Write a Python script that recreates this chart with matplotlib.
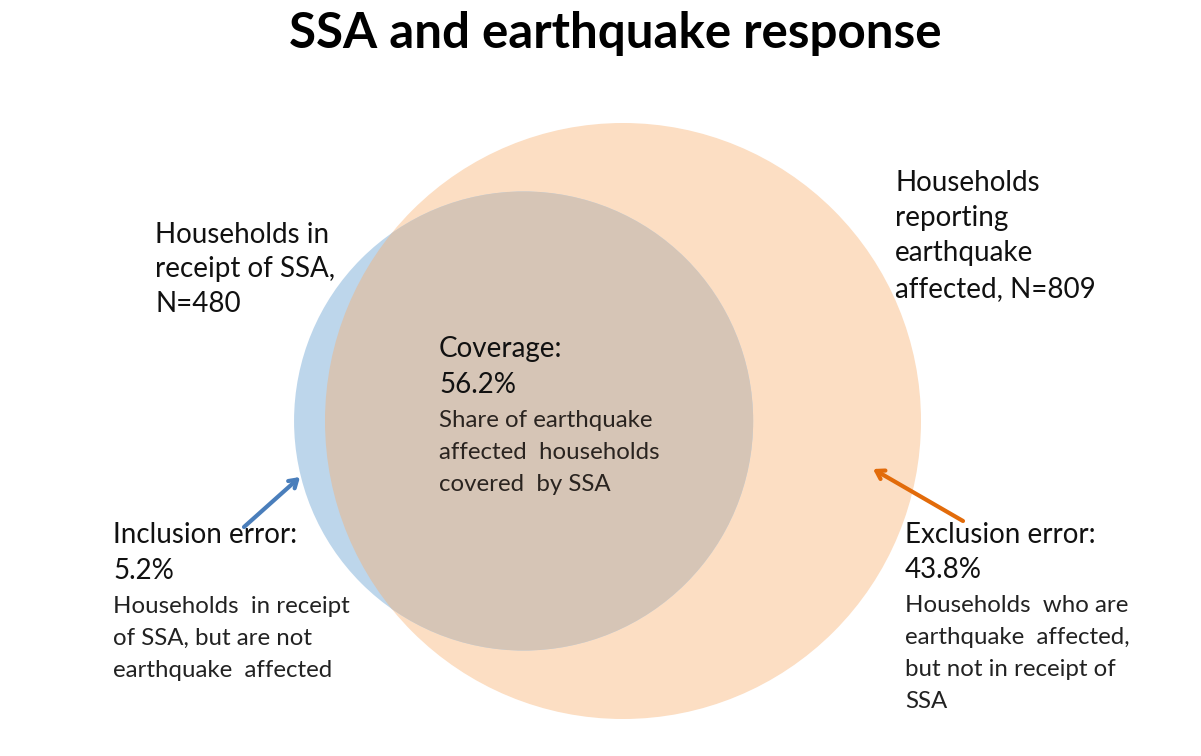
import numpy as np
import matplotlib
matplotlib.use("Agg")
import matplotlib.pyplot as plt
from matplotlib.patches import Circle

plt.rcParams['font.family'] = ['Lato', 'DejaVu Sans']

# household counts and shares
n_ssa = 480          # households in receipt of SSA
n_quake = 809        # households reporting earthquake affected
coverage = 56.2      # % of affected households covered by SSA
inclusion = 5.2      # % of SSA households not affected
exclusion = 43.8     # % of affected households without SSA

n_both = n_ssa * (1 - inclusion / 100)


def lens_area(r1, r2, d):
    # area shared by two circles whose centres are d apart
    a1 = np.arccos((d**2 + r1**2 - r2**2) / (2 * d * r1))
    a2 = np.arccos((d**2 + r2**2 - r1**2) / (2 * d * r2))
    k = np.sqrt((-d + r1 + r2) * (d + r1 - r2) * (d - r1 + r2) * (d + r1 + r2))
    return r1**2 * a1 + r2**2 * a2 - 0.5 * k


# circle areas proportional to counts
scale = 298 / np.sqrt(n_quake)
r_quake = scale * np.sqrt(n_quake)
r_ssa = scale * np.sqrt(n_ssa)
target = np.pi * scale**2 * n_both

# find centre distance giving the right overlap (bisection)
lo, hi = abs(r_quake - r_ssa) + 1e-6, r_quake + r_ssa - 1e-6
for _ in range(100):
    mid = (lo + hi) / 2
    if lens_area(r_quake, r_ssa, mid) > target:
        lo = mid
    else:
        hi = mid
dist = (lo + hi) / 2

cx_quake, cy = 623, 421
cx_ssa = cx_quake - dist

fig = plt.figure(figsize=(12.01, 7.56), dpi=100)
ax = fig.add_axes([0, 0, 1, 1])
ax.set_xlim(0, 1201)
ax.set_ylim(756, 0)
ax.axis('off')

quake = Circle((cx_quake, cy), r_quake, color='#fcdec3', lw=0)
ax.add_patch(quake)
ax.add_patch(Circle((cx_ssa, cy), r_ssa, color='#bdd6eb', lw=0))
both = Circle((cx_ssa, cy), r_ssa, color='#d6c5b6', lw=0)
ax.add_patch(both)
both.set_clip_path(quake)

ax.text(615, 48, 'SSA and earthquake response', ha='center', va='baseline',
        fontsize=35.5, fontweight='bold', color='black')


def block(x, y, lines, size, step, color='#111111'):
    for i, s in enumerate(lines):
        ax.text(x, y + i * step, s, ha='left', va='baseline',
                fontsize=size, color=color)


big = 20
small = 17.3

block(155, 243, ['Households in', 'receipt of SSA,', 'N=%d' % n_ssa], big, 34.5)
block(895, 191, ['Households', 'reporting', 'earthquake',
                 'affected, N=%d' % n_quake], big, 35.2)

block(439, 357, ['Coverage:', '%.1f%%' % coverage], big, 36)
block(439, 427, ['Share of earthquake', 'affected  households',
                 'covered  by SSA'], small, 32, '#2a2420')

block(113, 543, ['Inclusion error:', '%.1f%%' % inclusion], big, 36)
block(113, 613, ['Households  in receipt', 'of SSA, but are not',
                 'earthquake  affected'], small, 32, '#222222')

block(905, 543, ['Exclusion error:', '%.1f%%' % exclusion], big, 35)
block(905, 612, ['Households  who are', 'earthquake  affected,',
                 'but not in receipt of', 'SSA'], small, 32, '#222222')

ax.annotate('', xy=(300, 477), xytext=(244, 527),
            arrowprops=dict(arrowstyle='->,head_length=0.55,head_width=0.35',
                            color='#4a7ebb', lw=3, shrinkA=0, shrinkB=0))
ax.annotate('', xy=(873, 469), xytext=(963, 521),
            arrowprops=dict(arrowstyle='->,head_length=0.55,head_width=0.35',
                            color='#e26b0a', lw=3, shrinkA=0, shrinkB=0))

fig.savefig('out.png', dpi=100, facecolor='white')
